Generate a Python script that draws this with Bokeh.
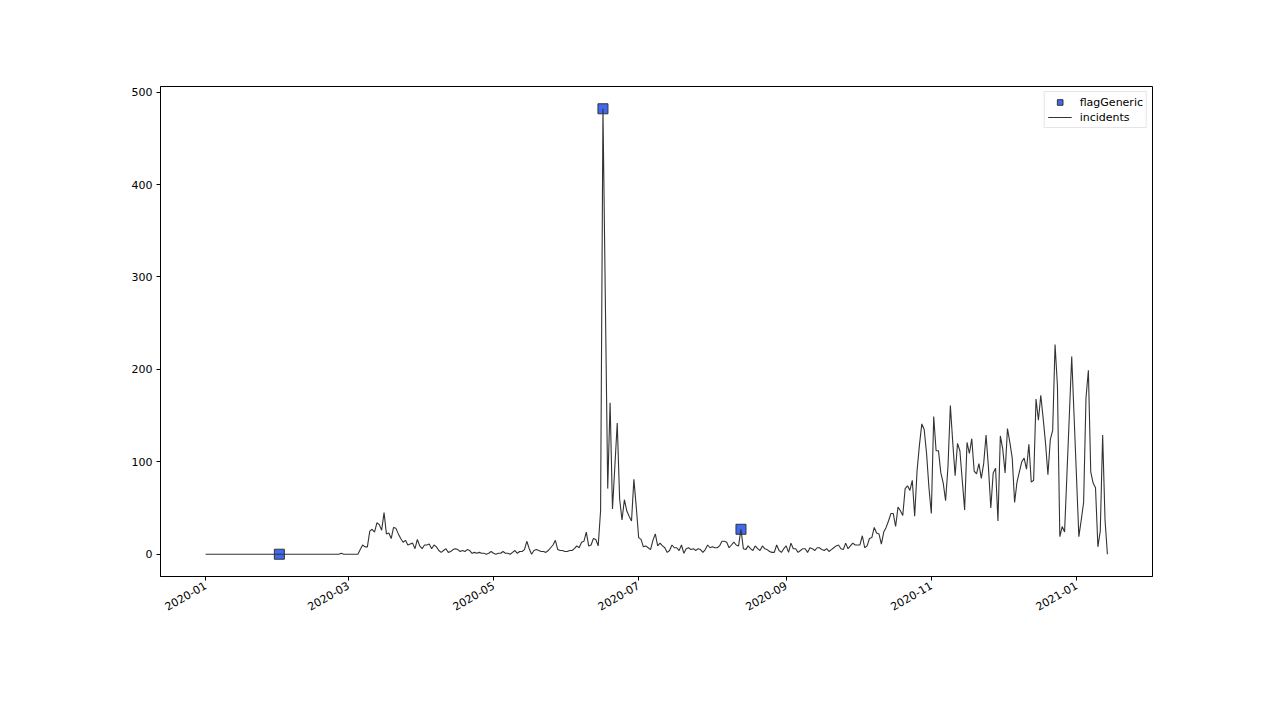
import math
import pandas as pd
from bokeh.plotting import figure
from bokeh.models import (Range1d, MonthsTicker, DatetimeTickFormatter, FixedTicker,
                          Legend, LegendItem, ColumnDataSource)
from bokeh.embed import file_html
from bokeh.resources import INLINE

# ---- data (daily incidents) ----
start_date = "2020-01-01"
jan_2020 = [0] * 31
feb_2020 = [0] * 26 + [1] + [0] * 2
mar_2020 = [0, 0, 0, 0, 0, 5, 10, 8, 8, 25, 27, 24, 34, 32, 26, 45, 22, 23, 17, 29,
            28, 22, 17, 13, 15, 10, 11, 12, 6, 16, 9]
apr_2020 = [6, 10, 10, 11, 6, 10, 8, 4, 2, 4, 6, 2, 3, 5, 6, 5, 3, 4, 3, 5,
            4, 1, 2, 1, 2, 1, 1, 0, 1, 3]
may_2020 = [1, 0, 1, 1, 3, 1, 1, 0, 2, 4, 1, 3, 3, 5, 14, 6, 0, 4, 5, 4,
            3, 3, 2, 4, 7, 10, 15, 5, 4, 4, 3]
jun_2020 = [3, 4, 4, 6, 9, 7, 13, 14, 24, 9, 10, 17, 16, 9, 47, 482, 275, 71, 164, 49,
            95, 142, 60, 37, 59, 47, 41, 36, 81, 51]
jul_2020 = [18, 16, 8, 9, 7, 5, 15, 22, 9, 12, 9, 7, 2, 4, 10, 7, 7, 4, 10, 1,
            6, 7, 5, 6, 4, 6, 5, 2, 5, 10, 7]
aug_2020 = [8, 7, 7, 9, 14, 14, 13, 7, 10, 13, 10, 9, 27, 6, 5, 9, 6, 4, 9, 6,
            4, 9, 6, 5, 3, 2, 2, 10, 4, 2, 6]
sep_2020 = [9, 2, 12, 6, 6, 2, 4, 6, 6, 2, 7, 6, 4, 7, 7, 5, 4, 6, 3, 5,
            7, 9, 10, 6, 5, 12, 6, 9, 12, 10]
oct_2020 = [10, 10, 20, 7, 9, 17, 18, 29, 23, 22, 11, 24, 29, 36, 44, 44, 30, 51, 47, 42,
            71, 74, 69, 80, 41, 90, 118, 141, 135, 109, 72]
nov_2020 = [44, 149, 112, 112, 88, 77, 58, 95, 161, 121, 85, 120, 112, 80, 48, 121, 109, 125, 90, 87,
            98, 82, 98, 129, 94, 50, 88, 93, 36, 128]
dec_2020 = [114, 88, 136, 121, 104, 56, 78, 89, 100, 104, 92, 119, 78, 80, 168, 145, 172, 147, 120, 86,
            124, 134, 227, 182, 19, 30, 24, 87, 150, 214, 149]
jan_2021 = [84, 19, 37, 56, 169, 199, 89, 77, 72, 8, 25, 129, 37, 0]

incidents = (jan_2020 + feb_2020 + mar_2020 + apr_2020 + may_2020 + jun_2020 + jul_2020 +
             aug_2020 + sep_2020 + oct_2020 + nov_2020 + dec_2020 + jan_2021)
dates = pd.date_range(start_date, periods=len(incidents), freq="D")

flag_dates = ["2020-02-01", "2020-06-16", "2020-08-13"]
flag_values = [0, 482, 27]

y_ticks = [0, 100, 200, 300, 400, 500]
tick_months = [0, 2, 4, 6, 8, 10]

# ---- figure ----
ms = lambda ts: ts.value / 1e6
x0, x1 = ms(dates[0]), ms(dates[-1])
xpad = 0.05 * (x1 - x0)
ymin, ymax = min(incidents), max(incidents)
ypad = 0.05 * (ymax - ymin)

p = figure(width=1264, height=704, x_axis_type="datetime",
           output_backend="svg", toolbar_location=None,
           x_range=Range1d(x0 - xpad, x1 + xpad),
           y_range=Range1d(ymin - ypad, ymax + ypad),
           min_border_left=160, min_border_right=112,
           min_border_top=86, min_border_bottom=128)

p.background_fill_color = "white"
p.border_fill_color = "white"
p.outline_line_color = "black"
p.outline_line_width = 1
p.xgrid.grid_line_color = None
p.ygrid.grid_line_color = None

src_line = ColumnDataSource(dict(x=dates, y=incidents))
src_flag = ColumnDataSource(dict(x=pd.to_datetime(flag_dates), y=flag_values))

r_flag = p.scatter("x", "y", source=src_flag, marker="square", size=10,
                   fill_color="#4169f0", line_color="#333333", line_width=1)
r_line = p.line("x", "y", source=src_line, line_color="#333333", line_width=1.1)

p.xaxis.ticker = MonthsTicker(months=tick_months)
fmt = "%Y-%m"
p.xaxis.formatter = DatetimeTickFormatter(months=fmt, days=fmt, years=fmt, hours=fmt,
                                          minutes=fmt, seconds=fmt, milliseconds=fmt,
                                          microseconds=fmt, minsec=fmt, hourmin=fmt)
p.xaxis.major_label_orientation = math.pi / 6
p.yaxis.ticker = FixedTicker(ticks=y_ticks)

for ax in (p.xaxis[0], p.yaxis[0]):
    ax.axis_line_color = "black"
    ax.major_tick_line_color = "black"
    ax.major_tick_out = 4
    ax.major_tick_in = 0
    ax.minor_tick_line_color = None
    ax.major_label_text_font = "DejaVu Sans"
    ax.major_label_text_font_size = "11px"
    ax.major_label_text_color = "black"
    ax.major_label_standoff = 4

legend = Legend(items=[LegendItem(label="flagGeneric", renderers=[r_flag]),
                       LegendItem(label="incidents", renderers=[r_line])],
                location="top_right", margin=5, padding=3, spacing=1,
                glyph_width=24, glyph_height=14, label_height=14, label_standoff=8,
                label_text_font="DejaVu Sans", label_text_font_size="11px",
                label_text_color="black",
                border_line_color="#cccccc", border_line_width=1,
                background_fill_color="white", background_fill_alpha=0.8)
p.add_layout(legend, "center")

open("out.html", "w").write(file_html(p, INLINE))
